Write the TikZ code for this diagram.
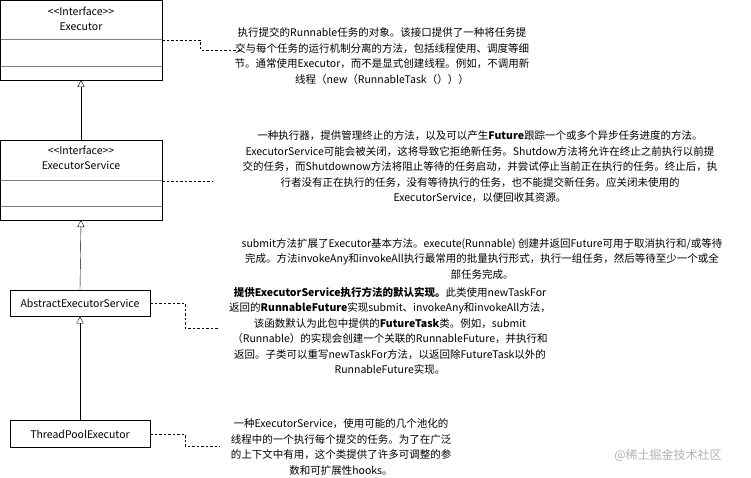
\documentclass[tikz,border=0pt]{standalone}
\usepackage{fontspec}
\setmainfont{Noto Sans CJK SC}
\usetikzlibrary{arrows.meta}
\begin{document}
\begin{tikzpicture}[x=1pt,y=-1pt,
  cls/.style={draw,thick,fill=white},
  inh/.style={-{Triangle[open,length=7pt,width=7pt]}},
  note/.style={dash pattern=on 2.5pt off 2pt},
  txt/.style={align=center,font=\fontsize{10.5}{15.5}\selectfont,inner sep=0pt}]
\useasboundingbox (0,0) rectangle (751,478);
% Executor
\draw[cls] (0.5,0.5) rectangle (162,80);
\draw[gray] (0.5,39) -- (162,39) (0.5,66) -- (162,66);
\node[txt] (e) at (81,19) {\textit{{<}{<}Interface{>}{>}}\\Executor};
\coordinate (eb) at (81,80);
% ExecutorService
\draw[cls] (0.5,140) rectangle (162,220);
\draw[gray] (0.5,180) -- (162,180) (0.5,206) -- (162,206);
\node[txt] (es) at (81,158) {\textit{{<}{<}Interface{>}{>}}\\ExecutorService};
\coordinate (est) at (81,140); \coordinate (esb) at (81,220);
% Abstract
\node[cls,minimum width=140pt,minimum height=26pt,inner sep=0pt,font=\fontsize{10.5}{12}\selectfont] (a) at (80,303) {AbstractExecutorService};
% ThreadPool
\node[cls,minimum width=140pt,minimum height=27pt,inner sep=0pt,font=\fontsize{10.5}{12}\selectfont] (t) at (80,434) {ThreadPoolExecutor};
\draw[inh] (est) -- (eb);
\draw[inh] (a.north) -- (esb);
\draw[inh] (t.north) -- (a.south);
% notes
\node[txt] (n1) at (382,56) {执行提交的Runnable任务的对象。该接口提供了一种将任务提\\交与每个任务的运行机制分离的方法，包括线程使用、调度等细\\节。通常使用Executor，而不是显式创建线程。例如，不调用新\\线程（new（RunnableTask（）））};
\node[txt] (n2) at (480,167) {一种执行器，提供管理终止的方法，以及可以产生\textbf{Future}跟踪一个或多个异步任务进度的方法。\\ExecutorService可能会被关闭，这将导致它拒绝新任务。Shutdow方法将允许在终止之前执行以前提\\交的任务，而Shutdownow方法将阻止等待的任务启动，并尝试停止当前正在执行的任务。终止后，执\\行者没有正在执行的任务，没有等待执行的任务，也不能提交新任务。应关闭未使用的\\ExecutorService，以便回收其资源。};
\node[txt] (n3) at (482,259) {submit方法扩展了Executor基本方法。execute(Runnable) 创建并返回Future可用于取消执行和/或等待\\完成。方法invokeAny和invokeAll执行最常用的批量执行形式，执行一组任务，然后等待至少一个或全\\部任务完成。};
\node[txt] (n4) at (390,331) {\textbf{提供ExecutorService执行方法的默认实现。}此类使用newTaskFor\\返回的\textbf{RunnableFuture}实现submit、invokeAny和invokeAll方法，\\该函数默认为此包中提供的\textbf{FutureTask}类。例如，submit\\（Runnable）的实现会创建一个关联的RunnableFuture，并执行和\\返回。子类可以重写newTaskFor方法，以返回除FutureTask以外的\\RunnableFuture实现。};
\node[txt] (n5) at (341,447) {一种ExecutorService，使用可能的几个池化的\\线程中的一个执行每个提交的任务。为了在广泛\\的上下文中有用，这个类提供了许多可调整的参\\数和可扩展性hooks。};
\node[txt,text=gray!60,font=\fontsize{12}{14}\selectfont] (wm) at (668,455) {@稀土掘金技术社区};
% dashed connectors
\coordinate (c1) at (240,50);
\draw[note] (162,40) -- (200,40) -- (200,50) -- (c1);
\coordinate (c2) at (212,181);
\draw[note] (162,181) -- (c2);
\coordinate (c4) at (218,328);
\draw[note] (a.east) -- (185,303) -- (185,328) -- (c4);
\coordinate (c5) at (220,446);
\draw[note] (t.east) -- (185,434) -- (185,446) -- (c5);
\end{tikzpicture}
\end{document}
